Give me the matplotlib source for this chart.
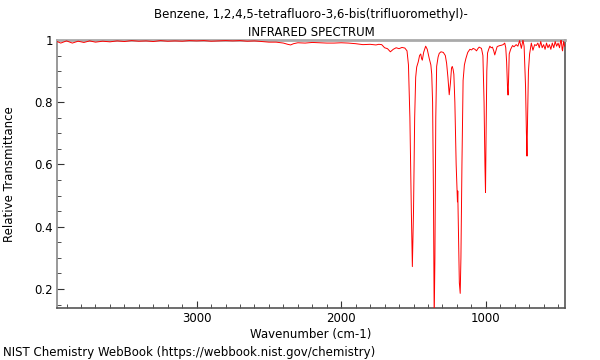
import matplotlib
matplotlib.use("Agg")
import matplotlib.pyplot as plt
from matplotlib.ticker import MultipleLocator, FixedLocator

# spectrum, (wavenumber cm-1, transmittance)
wavenumber = [
    3966, 3940, 3900, 3860, 3820, 3780, 3740, 3700, 3650, 3600,
    3550, 3500, 3450, 3400, 3350, 3300, 3250, 3200, 3150, 3100,
    3050, 3000, 2950, 2900, 2850, 2800, 2750, 2700, 2650, 2600,
    2550, 2500, 2450, 2400, 2370, 2350, 2330, 2300, 2250, 2200,
    2150, 2100, 2050, 2000, 1950, 1900, 1850, 1800, 1760, 1740,
    1720, 1700, 1680, 1660, 1650, 1640, 1620, 1600, 1580, 1560,
    1545, 1535, 1525, 1515, 1508, 1500, 1492, 1485, 1478, 1467,
    1458, 1450, 1444, 1439, 1430, 1416, 1405, 1391, 1380, 1374,
    1368, 1362, 1357, 1352, 1346, 1340, 1330, 1322, 1310, 1294,
    1280, 1271, 1262, 1253, 1245, 1237, 1232, 1226, 1221, 1214,
    1205, 1198, 1196, 1194, 1190, 1183, 1177, 1172, 1165, 1157,
    1148, 1138, 1125, 1110, 1098, 1088, 1075, 1064, 1055, 1046,
    1038, 1030, 1020, 1012, 1006, 1002, 998, 993, 988, 980,
    972, 963, 954, 945, 938, 930, 922, 915, 903, 892,
    880, 869, 862, 856, 850, 846, 842, 838, 828, 815,
    805, 790, 778, 766, 754, 743, 735, 725, 719, 715,
    711, 705, 697, 685, 674, 662, 651, 640, 630, 620,
    610, 600, 590, 580, 570, 560, 550, 540, 530, 520,
    510, 500, 490, 479, 472, 469, 462, 455,
]
transmittance = [
    0.995, 0.990, 0.997, 0.990, 0.996, 0.992, 0.997, 0.993, 0.996, 0.994,
    0.997, 0.995, 0.998, 0.996, 0.997, 0.995, 0.998, 0.996, 0.997, 0.996,
    0.998, 0.997, 0.998, 0.996, 0.997, 0.998, 0.997, 0.998, 0.996, 0.997,
    0.995, 0.993, 0.993, 0.990, 0.986, 0.984, 0.988, 0.991, 0.990, 0.992,
    0.991, 0.990, 0.990, 0.991, 0.990, 0.988, 0.985, 0.986, 0.984, 0.986,
    0.985, 0.975, 0.972, 0.962, 0.966, 0.970, 0.975, 0.972, 0.976, 0.974,
    0.965, 0.920, 0.750, 0.450, 0.272, 0.450, 0.750, 0.880, 0.913, 0.930,
    0.950, 0.955, 0.940, 0.935, 0.960, 0.980, 0.970, 0.940, 0.920, 0.890,
    0.800, 0.500, 0.100, 0.300, 0.750, 0.915, 0.945, 0.957, 0.962, 0.960,
    0.950, 0.925, 0.880, 0.824, 0.860, 0.910, 0.915, 0.905, 0.890, 0.800,
    0.600, 0.510, 0.480, 0.515, 0.400, 0.220, 0.186, 0.300, 0.600, 0.870,
    0.920, 0.940, 0.960, 0.970, 0.968, 0.973, 0.970, 0.965, 0.972, 0.977,
    0.975, 0.973, 0.950, 0.800, 0.600, 0.510, 0.700, 0.900, 0.958, 0.970,
    0.980, 0.975, 0.977, 0.965, 0.952, 0.965, 0.978, 0.980, 0.982, 0.983,
    0.985, 0.990, 0.975, 0.930, 0.850, 0.823, 0.880, 0.955, 0.970, 0.982,
    0.978, 0.985, 0.980, 0.998, 0.973, 1.000, 0.980, 0.850, 0.700, 0.627,
    0.750, 0.900, 0.955, 0.990, 0.967, 0.985, 0.982, 0.990, 0.975, 0.995,
    0.975, 0.985, 0.970, 0.990, 0.975, 0.985, 0.970, 0.990, 0.975, 0.995,
    0.980, 0.990, 0.975, 1.005, 0.970, 0.965, 0.995, 0.980,
]

x_ticks = [3000, 2000, 1000]
y_ticks = [0.2, 0.4, 0.6, 0.8, 1.0]
y_labels = ["0.2", "0.4", "0.6", "0.8", "1"]

fig = plt.figure(figsize=(6, 3.6), dpi=100)
ax = fig.add_axes([0.095, 0.1444, 0.8467, 0.7446])

# line sits on top of the frame, like the reference
ax.plot(wavenumber, transmittance, color="red", linewidth=0.7, zorder=3)

ax.set_xlim(3966, 452)
ax.set_ylim(0.139, 1.0)

ax.xaxis.set_major_locator(FixedLocator(x_ticks))
ax.xaxis.set_minor_locator(MultipleLocator(100))
ax.yaxis.set_major_locator(FixedLocator(y_ticks))
ax.yaxis.set_minor_locator(MultipleLocator(0.05))
ax.set_yticklabels(y_labels)

ax.tick_params(axis="both", which="major", direction="in", length=5, labelsize=8.5,
               colors="#333333", labelcolor="black", pad=3)
ax.tick_params(axis="both", which="minor", direction="in", length=3, colors="#333333")

for side in ["bottom", "right"]:
    ax.spines[side].set_color("#555555")
    ax.spines[side].set_linewidth(1.2)
ax.spines["left"].set_color("#888888")
ax.spines["left"].set_linewidth(1.2)
ax.spines["top"].set_color("#aaaaaa")
ax.spines["top"].set_linewidth(2)

ax.set_xlabel("Wavenumber (cm-1)", fontsize=8.5, labelpad=2)
ax.set_ylabel("Relative Transmittance", fontsize=8.5)
ax.yaxis.set_label_coords(-0.08, 0.5)
ax.set_title("Benzene, 1,2,4,5-tetrafluoro-3,6-bis(trifluoromethyl)-\nINFRARED SPECTRUM",
             fontsize=8.5, pad=3, linespacing=1.5)

fig.text(0.005, 0.012, "NIST Chemistry WebBook (https://webbook.nist.gov/chemistry)", fontsize=8.5)

fig.savefig("out.png", dpi=100)
